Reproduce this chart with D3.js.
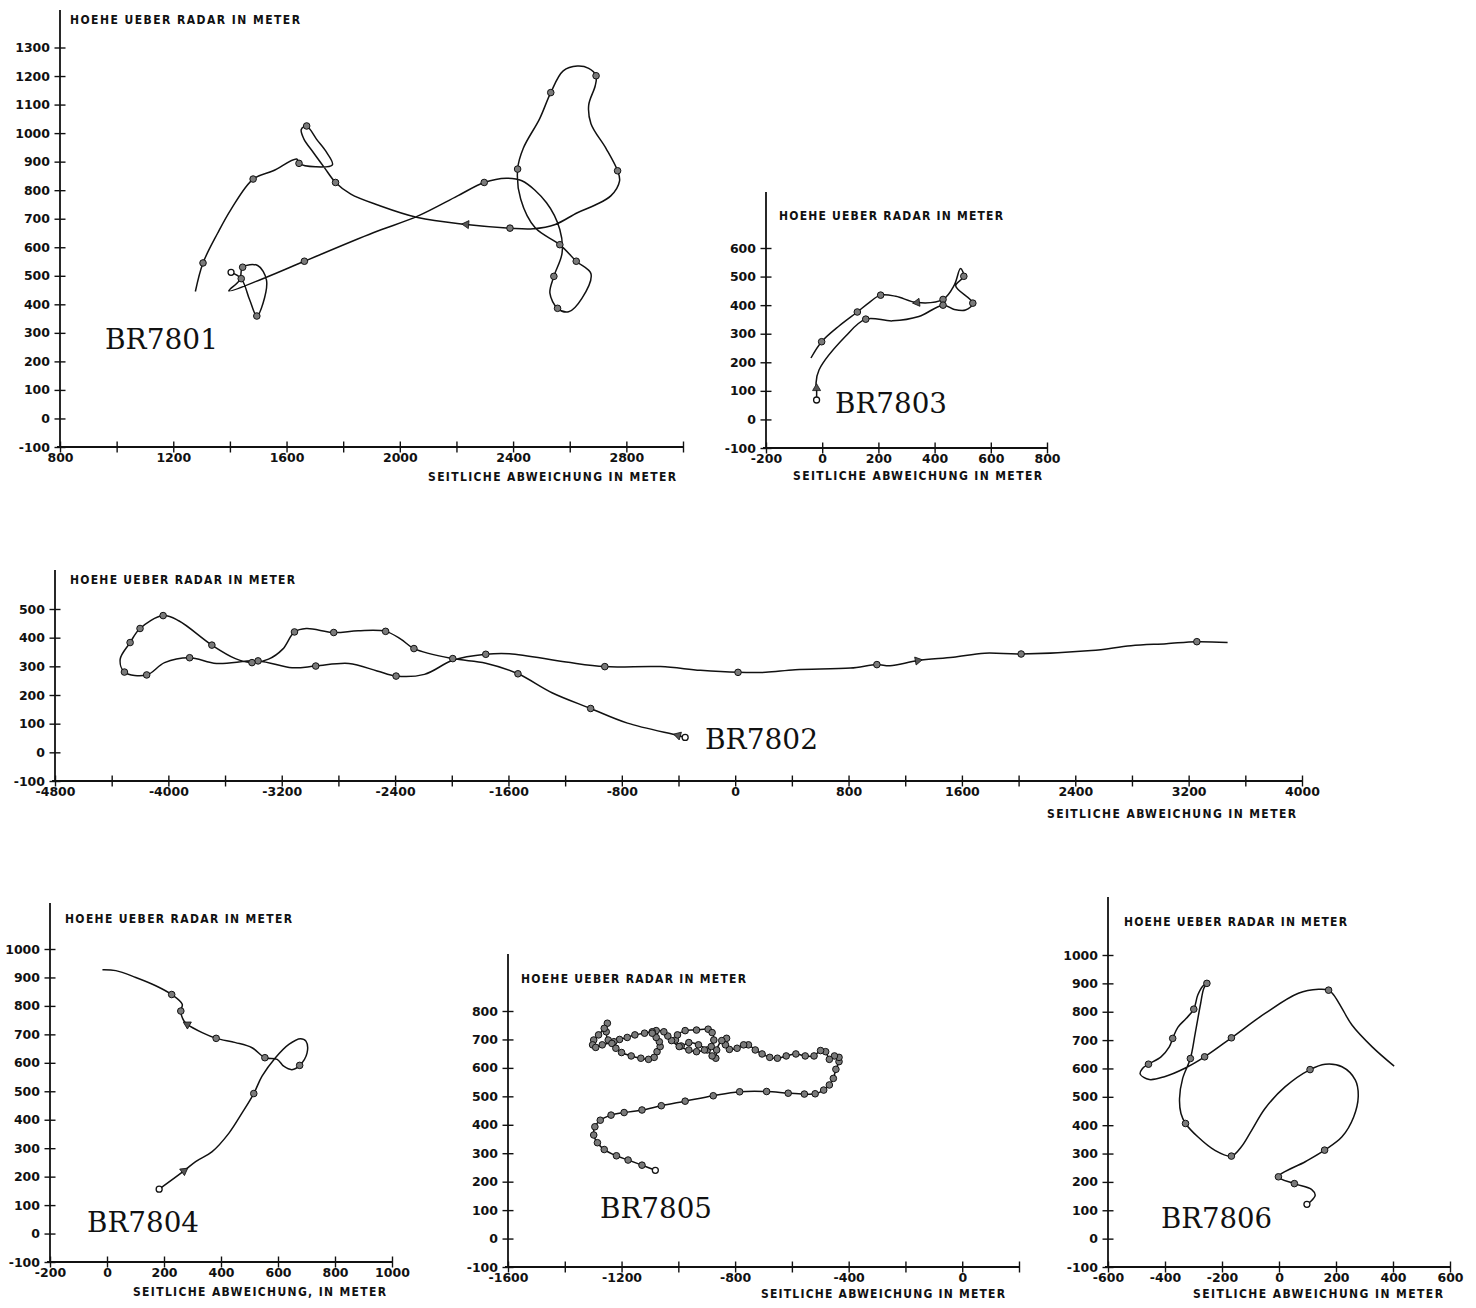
<!DOCTYPE html>
<html>
<head>
<meta charset="utf-8">
<script src="https://cdn.jsdelivr.net/npm/d3@7"></script>
<style>
  body { margin: 0; background: #fff; }
  svg text { fill: #111; }
  .tick text {
    font-family: "DejaVu Sans", sans-serif;
    font-weight: bold;
    font-size: 12.5px;
  }
  .axtitle {
    font-family: "Liberation Sans Narrow", "DejaVu Sans Condensed", sans-serif;
    font-weight: bold;
    font-size: 12px;
  }
  .flight { font-family: "DejaVu Serif", "Liberation Serif", serif; font-size: 27px; }
</style>
</head>
<body>
<svg id="chart" width="1476" height="1308"></svg>
<script>
// ---- data: [seitliche Abweichung (m), Hoehe (m), mark]  mark: 0 none, 1 point, 2 arrow, 3 open circle (start)
const br7801Track = [
  [1278,445,0],[1305,545,1],[1357,650,0],[1404,733,0],[1482,839,1],[1553,868,0],[1636,909,0],
  [1644,894,1],[1702,882,0],[1762,889,0],[1741,933,0],[1705,980,0],[1683,1013,0],[1671,1025,1],
  [1652,1013,0],[1661,980,0],[1694,933,0],[1733,880,0],[1773,827,1],[1827,786,0],[1922,748,0],
  [2063,704,0],[2235,680,2],[2389,667,1],[2471,665,0],[2549,680,0],[2627,721,0],[2690,748,0],
  [2745,780,0],[2776,833,0],[2769,868,1],[2729,945,0],[2675,1033,0],[2667,1098,0],[2690,1166,0],
  [2693,1201,1],[2667,1227,0],[2627,1235,0],[2577,1218,0],[2533,1142,1],[2494,1051,0],[2436,947,0],
  [2416,874,1],[2427,768,0],[2478,668,0],[2565,609,1],[2623,551,1],[2675,507,0],[2643,421,0],
  [2596,374,0],[2557,386,1],[2530,439,0],[2544,498,1],[2573,580,0],[2565,662,0],[2518,756,0],
  [2431,833,0],[2376,842,0],[2298,827,1],[2204,780,0],[2063,709,0],[1906,651,0],[1663,551,1],
  [1529,495,0],[1396,447,0],[1435,486,0],[1445,530,1],[1498,536,0],[1529,486,0],[1517,404,0],
  [1495,359,1],[1470,415,0],[1440,490,1],[1404,512,3]
];
const br7803Track = [
  [-40,215,0],[-2,272,1],[60,327,0],[125,376,1],[167,409,0],[208,435,1],[262,431,0],[338,409,2],
  [430,420,1],[470,470,0],[492,528,0],[504,501,1],[475,468,0],[536,407,1],[510,383,0],[470,385,0],
  [430,400,1],[344,360,0],[250,345,0],[155,351,1],[84,292,0],[-11,174,0],[-22,127,0],[-20,109,2],
  [-20,68,3]
];
const br7802Track = [
  [3475,383,0],[3258,386,1],[3043,379,0],[2793,372,0],[2514,355,0],[2018,343,1],[1761,346,0],
  [1538,332,0],[1288,320,2],[1093,302,0],[1000,306,1],[814,294,0],[424,288,0],[215,279,0],
  [20,279,1],[-245,286,0],[-527,299,0],[-920,299,1],[-1193,315,0],[-1593,344,0],[-1760,342,1],
  [-1993,321,0],[-2193,272,0],[-2393,266,1],[-2527,284,0],[-2727,310,0],[-2960,301,1],[-3127,295,0],
  [-3367,319,1],[-3660,310,0],[-3850,330,1],[-4027,313,0],[-4153,270,1],[-4310,280,1],[-4340,325,0],
  [-4270,383,1],[-4200,432,1],[-4037,477,1],[-3927,459,0],[-3693,374,1],[-3527,327,0],[-3410,313,1],
  [-3293,325,0],[-3193,360,0],[-3110,420,1],[-3027,432,0],[-2833,418,1],[-2660,424,0],[-2467,422,1],
  [-2360,395,0],[-2267,362,1],[-1993,327,1],[-1760,311,0],[-1533,274,1],[-1293,208,0],[-1020,153,1],
  [-760,102,0],[-403,59,2],[-353,52,3]
];
const br7804Track = [
  [-16,927,0],[31,924,0],[101,900,0],[171,871,0],[227,840,1],[264,806,0],[259,782,1],[270,747,0],
  [282,735,2],[334,706,0],[383,686,1],[451,671,0],[509,653,0],[554,618,1],[597,612,0],[620,588,0],
  [649,576,0],[676,591,1],[702,635,0],[698,676,0],[679,685,0],[638,665,0],[591,618,0],[544,553,0],
  [515,492,1],[474,424,0],[428,353,0],[369,288,0],[311,253,0],[270,220,2],[183,156,3]
];
const br7805Track = [
  [-1081,240,3],[-1128,258,1],[-1177,276,1],[-1218,291,1],[-1261,313,1],[-1285,337,1],[-1298,364,1],
  [-1294,393,1],[-1275,416,1],[-1237,434,1],[-1191,443,1],[-1128,452,1],[-1060,467,1],[-976,483,1],
  [-877,502,1],[-784,516,1],[-689,517,1],[-613,511,1],[-556,508,1],[-518,509,1],[-488,522,1],
  [-468,540,1],[-454,563,1],[-445,595,1],[-434,622,1],[-434,637,1],[-450,642,1],[-468,630,1],
  [-481,657,1],[-499,661,1],[-522,642,1],[-553,642,1],[-586,649,1],[-620,642,1],[-651,634,1],
  [-678,637,1],[-705,649,1],[-729,663,1],[-753,681,1],[-770,681,1],[-793,669,1],[-820,665,1],
  [-834,681,1],[-830,704,1],[-847,696,1],[-865,663,1],[-868,634,1],[-881,642,1],[-898,663,1],
  [-929,681,1],[-963,689,1],[-990,677,1],[-1010,698,1],[-1003,716,1],[-976,731,1],[-936,733,1],
  [-895,736,1],[-881,724,1],[-875,698,1],[-884,675,1],[-908,663,1],[-936,657,1],[-963,663,1],
  [-997,675,1],[-1024,696,1],[-1037,712,1],[-1051,727,1],[-1078,731,1],[-1092,727,1],[-1119,722,1],
  [-1153,716,1],[-1180,707,1],[-1207,700,1],[-1227,692,1],[-1247,698,1],[-1254,727,1],[-1250,757,1],
  [-1261,739,1],[-1281,716,1],[-1298,698,1],[-1302,681,1],[-1291,672,1],[-1268,681,1],[-1234,686,1],
  [-1220,669,1],[-1200,654,1],[-1166,642,1],[-1132,634,1],[-1105,630,1],[-1085,637,1],[-1075,657,1],
  [-1064,675,1],[-1067,692,1],[-1078,707,1],[-1092,722,1]
];
const br7806Track = [
  [404,608,0],[327,676,0],[256,753,0],[221,812,0],[192,859,0],[174,876,1],[139,879,0],[68,865,0],
  [-49,794,0],[-167,708,1],[-261,641,1],[-332,600,0],[-402,571,0],[-455,561,0],[-487,580,0],
  [-479,600,0],[-458,615,1],[-414,641,0],[-385,676,0],[-373,706,1],[-355,745,0],[-326,776,0],
  [-299,809,1],[-285,859,0],[-267,891,0],[-253,900,1],[-264,882,0],[-275,829,0],[-294,724,0],
  [-311,635,1],[-338,565,0],[-349,494,0],[-344,441,0],[-328,406,1],[-285,359,0],[-226,312,0],
  [-167,291,1],[-132,324,0],[-96,382,0],[-49,459,0],[21,535,0],[109,596,1],[162,615,0],[221,606,0],
  [268,559,0],[278,500,0],[262,429,0],[221,359,0],[160,312,1],[92,271,0],[-2,218,1],[54,194,1],
  [115,173,0],[127,153,0],[109,129,0],[98,121,3]
];

// ---- tick values and labels
const br7801YTicks = [-100,0,100,200,300,400,500,600,700,800,900,1000,1100,1200,1300];
const br7801XTicks = [800,1000,1200,1400,1600,1800,2000,2200,2400,2600,2800,3000];
const br7801XLabels = [800,1200,1600,2000,2400,2800];
const br7803YTicks = [-100,0,100,200,300,400,500,600];
const br7803XTicks = [-200,0,200,400,600,800];
const br7802YTicks = [-100,0,100,200,300,400,500];
const br7802XTicks = [-4800,-4400,-4000,-3600,-3200,-2800,-2400,-2000,-1600,-1200,-800,-400,0,400,800,1200,1600,2000,2400,2800,3200,3600,4000];
const br7802XLabels = [-4800,-4000,-3200,-2400,-1600,-800,0,800,1600,2400,3200,4000];
const br7804YTicks = [-100,0,100,200,300,400,500,600,700,800,900,1000];
const br7804XTicks = [-200,0,200,400,600,800,1000];
const br7805YTicks = [-100,0,100,200,300,400,500,600,700,800];
const br7805XTicks = [-1600,-1400,-1200,-1000,-800,-600,-400,-200,0,200];
const br7805XLabels = [-1600,-1200,-800,-400,0];
const br7806YTicks = [-100,0,100,200,300,400,500,600,700,800,900,1000];
const br7806XTicks = [-600,-400,-200,0,200,400,600];

const yTitle = "HOEHE UEBER RADAR IN METER";
const xTitle = "SEITLICHE ABWEICHUNG IN METER";
const xTitleComma = "SEITLICHE ABWEICHUNG, IN METER";

// ---- panel layout (pixels)
const panels = [
  { name: "BR7801", track: br7801Track, yTicks: br7801YTicks, xTicks: br7801XTicks, xLabels: br7801XLabels,
    xDomain: [800, 3000], xRange: [60, 683], yDomain: [-100, 1300], yRange: [447, 47.5], axisTop: 10,
    yT: {x: 70, y: 24, w: 230}, xT: {x: 428, y: 481, w: 248, text: xTitle}, lab: {x: 105, y: 349, w: 113} },
  { name: "BR7803", track: br7803Track, yTicks: br7803YTicks, xTicks: br7803XTicks, xLabels: br7803XTicks,
    xDomain: [-200, 800], xRange: [766, 1047], yDomain: [-100, 600], yRange: [448, 248], axisTop: 192,
    yT: {x: 779, y: 220, w: 224}, xT: {x: 793, y: 480, w: 249, text: xTitle}, lab: {x: 835, y: 413, w: 112} },
  { name: "BR7802", track: br7802Track, yTicks: br7802YTicks, xTicks: br7802XTicks, xLabels: br7802XLabels,
    xDomain: [-4800, 4000], xRange: [55, 1302], yDomain: [-100, 500], yRange: [781, 609], axisTop: 570,
    yT: {x: 70, y: 584, w: 225}, xT: {x: 1047, y: 818, w: 249, text: xTitle}, lab: {x: 705, y: 749, w: 113} },
  { name: "BR7804", track: br7804Track, yTicks: br7804YTicks, xTicks: br7804XTicks, xLabels: br7804XTicks,
    xDomain: [-200, 1000], xRange: [50, 392], yDomain: [-100, 1000], yRange: [1262, 949], axisTop: 903,
    yT: {x: 65, y: 923, w: 227}, xT: {x: 133, y: 1296, w: 253, text: xTitleComma}, lab: {x: 87, y: 1232, w: 112} },
  { name: "BR7805", track: br7805Track, yTicks: br7805YTicks, xTicks: br7805XTicks, xLabels: br7805XLabels,
    xDomain: [-1600, 200], xRange: [508, 1019], yDomain: [-100, 800], yRange: [1267, 1011], axisTop: 954,
    yT: {x: 521, y: 983, w: 225}, xT: {x: 761, y: 1298, w: 244, text: xTitle}, lab: {x: 600, y: 1218, w: 112} },
  { name: "BR7806", track: br7806Track, yTicks: br7806YTicks, xTicks: br7806XTicks, xLabels: br7806XTicks,
    xDomain: [-600, 600], xRange: [1108, 1450], yDomain: [-100, 1000], yRange: [1267, 955], axisTop: 897,
    yT: {x: 1124, y: 926, w: 223}, xT: {x: 1193, y: 1298, w: 250, text: xTitle}, lab: {x: 1161, y: 1228, w: 111} }
];

const svg = d3.select("#chart");
const ink = "#111";

function drawPanel(p) {
  const x = d3.scaleLinear().domain(p.xDomain).range(p.xRange);
  const y = d3.scaleLinear().domain(p.yDomain).range(p.yRange);
  const g = svg.append("g").attr("class", "panel");
  const x0 = x(p.xDomain[0]), y0 = y(p.yDomain[0]);

  // y axis, ticks cross the axis line
  const gy = g.append("g")
    .attr("transform", `translate(${x0},0)`)
    .call(d3.axisLeft(y).tickValues(p.yTicks).tickSize(5.5).tickPadding(4.5).tickFormat(d => String(d)));
  gy.select(".domain").remove();
  gy.selectAll(".tick line").attr("x1", 5.5).attr("stroke", ink).attr("stroke-width", 1.4);

  // x axis
  const gx = g.append("g")
    .attr("transform", `translate(0,${y0})`)
    .call(d3.axisBottom(x).tickValues(p.xTicks).tickSize(5.5).tickPadding(1)
      .tickFormat(d => p.xLabels.includes(d) ? String(d) : ""));
  gx.select(".domain").remove();
  gx.selectAll(".tick line").attr("y1", -5.5).attr("stroke", ink).attr("stroke-width", 1.4);

  g.append("line").attr("x1", x0).attr("x2", x0).attr("y1", p.axisTop).attr("y2", y0)
    .attr("stroke", ink).attr("stroke-width", 1.8);
  g.append("line").attr("x1", x0 - 3).attr("x2", p.xRange[1]).attr("y1", y0).attr("y2", y0)
    .attr("stroke", ink).attr("stroke-width", 1.8);

  // titles
  g.append("text").attr("class", "axtitle").attr("x", p.yT.x).attr("y", p.yT.y)
    .attr("textLength", p.yT.w).attr("lengthAdjust", "spacing").text(yTitle);
  g.append("text").attr("class", "axtitle").attr("x", p.xT.x).attr("y", p.xT.y)
    .attr("textLength", p.xT.w).attr("lengthAdjust", "spacing").text(p.xT.text);
  g.append("text").attr("class", "flight").attr("x", p.lab.x).attr("y", p.lab.y)
    .attr("textLength", p.lab.w).attr("lengthAdjust", "spacingAndGlyphs").text(p.name);

  // track
  const line = d3.line().x(d => x(d[0])).y(d => y(d[1])).curve(d3.curveCatmullRom.alpha(0.5));
  g.append("path").datum(p.track).attr("d", line)
    .attr("fill", "none").attr("stroke", ink).attr("stroke-width", 1.5).attr("stroke-linejoin", "round");

  // point marks
  g.selectAll("circle.pt").data(p.track.filter(d => d[2] === 1)).join("circle")
    .attr("class", "pt").attr("cx", d => x(d[0])).attr("cy", d => y(d[1])).attr("r", 3.3)
    .attr("fill", "#7a7a7a").attr("stroke", ink).attr("stroke-width", 1);
  g.selectAll("circle.end").data(p.track.filter(d => d[2] === 3)).join("circle")
    .attr("class", "end").attr("cx", d => x(d[0])).attr("cy", d => y(d[1])).attr("r", 3)
    .attr("fill", "#fff").attr("stroke", ink).attr("stroke-width", 1.3);

  // arrow marks, pointing in the flight direction (flight runs from the open circle backwards through the list)
  const arrows = p.track.map((d, i) => ({d, i})).filter(o => o.d[2] === 2);
  g.selectAll("path.arr").data(arrows).join("path")
    .attr("class", "arr")
    .attr("d", d3.symbol(d3.symbolTriangle, 28))
    .attr("transform", o => {
      const a = p.track[o.i + 1] || o.d;
      const ang = Math.atan2(y(o.d[1]) - y(a[1]), x(o.d[0]) - x(a[0])) * 180 / Math.PI + 90;
      return `translate(${x(o.d[0])},${y(o.d[1])}) rotate(${ang})`;
    })
    .attr("fill", "#555").attr("stroke", ink).attr("stroke-width", 0.8);
}

panels.forEach(drawPanel);
</script>
</body>
</html>
